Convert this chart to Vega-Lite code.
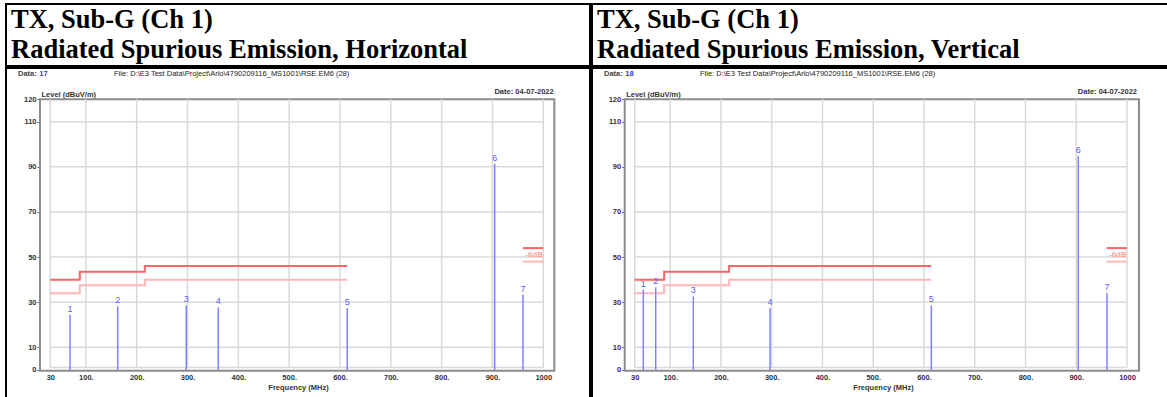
{
  "$schema": "https://vega.github.io/schema/vega-lite/v6.json",
  "background": "white",
  "padding": {"left": 5, "top": 3, "right": 0, "bottom": 0},
  "spacing": 0,
  "config": {"concat": {"spacing": 0}, "view": {"stroke": null}},
  "datasets": {
    "vgrid": [{"freq": 30}, {"freq": 100}, {"freq": 200}, {"freq": 300}, {"freq": 400}, {"freq": 500}, {"freq": 600}, {"freq": 700}, {"freq": 800}, {"freq": 900}, {"freq": 1000}],
    "hgrid": [{"level": 1.1}, {"level": 10}, {"level": 30}, {"level": 50}, {"level": 70}, {"level": 90}, {"level": 110}],
    "limits": [
      {"seg": "u1", "kind": "limit", "freq": 30, "level": 40},
      {"seg": "u1", "kind": "limit", "freq": 88, "level": 43.5},
      {"seg": "u1", "kind": "limit", "freq": 216, "level": 46},
      {"seg": "u1", "kind": "limit", "freq": 614, "level": 46},
      {"seg": "u2", "kind": "limit", "freq": 960, "level": 54},
      {"seg": "u2", "kind": "limit", "freq": 1000, "level": 54},
      {"seg": "l1", "kind": "margin", "freq": 30, "level": 34},
      {"seg": "l1", "kind": "margin", "freq": 88, "level": 37.5},
      {"seg": "l1", "kind": "margin", "freq": 216, "level": 40},
      {"seg": "l1", "kind": "margin", "freq": 614, "level": 40},
      {"seg": "l2", "kind": "margin", "freq": 960, "level": 48},
      {"seg": "l2", "kind": "margin", "freq": 1000, "level": 48}
    ],
    "peaksH": [
      {"id": "1", "freq": 68.8, "level": 24.5},
      {"id": "2", "freq": 162.6, "level": 28.2},
      {"id": "3", "freq": 297.6, "level": 28.6},
      {"id": "4", "freq": 360.5, "level": 27.7},
      {"id": "5", "freq": 614.3, "level": 27.4},
      {"id": "6", "freq": 904.3, "level": 91.3},
      {"id": "7", "freq": 960, "level": 33.3}
    ],
    "peaksV": [
      {"id": "1", "freq": 47, "level": 35.5},
      {"id": "2", "freq": 71.4, "level": 36.6},
      {"id": "3", "freq": 145.5, "level": 32.6},
      {"id": "4", "freq": 296.6, "level": 27.4},
      {"id": "5", "freq": 614.5, "level": 28.6},
      {"id": "6", "freq": 904, "level": 94.7},
      {"id": "7", "freq": 960.6, "level": 34.1}
    ]
  },
  "hconcat": [
    {
      "spacing": 0,
      "vconcat": [
        {
          "width": 584, "height": 62,
          "view": {"stroke": "black", "strokeWidth": 2},
          "data": {"values": []},
          "mark": "point",
          "encoding": {},
          "title": {"text": ["TX, Sub-G (Ch 1)", "Radiated Spurious Emission, Horizontal"], "anchor": "start", "frame": "group", "orient": "top", "offset": -23.7, "baseline": "alphabetic", "dx": 5, "dy": 56.7, "font": "Liberation Serif", "fontSize": 26.5, "fontWeight": "bold", "color": "black", "lineHeight": 30}
        },
        {
          "width": 584, "height": 337,
          "view": {"stroke": "black", "strokeWidth": 2},
          "layer": [
            {
              "data": {"values": [{}]},
              "mark": {"type": "rect", "filled": false, "color": "#8c8c8c", "strokeWidth": 2},
              "encoding": {
                "x": {"datum": 9.7, "type": "quantitative", "scale": {"type": "linear", "domain": [-57.16, 1091.9], "nice": false, "zero": false},
                  "axis": {"orient": "bottom", "offset": -34.3, "values": [30, 100, 200, 300, 400, 500, 600, 700, 800, 900, 1000], "format": "d", "labelExpr": "datum.value == 30 || datum.value == 1000 ? datum.label : datum.label + '.'", "grid": false, "domain": false, "ticks": false, "labelPadding": 3, "labelFont": "Liberation Sans", "labelFontSize": 7.5, "labelFontWeight": "bold", "labelColor": "#333333", "labelFlush": false, "labelOverlap": false, "title": "Frequency (MHz)", "titleFont": "Liberation Sans", "titleFontSize": 7.5, "titleFontWeight": "bold", "titleColor": "#333333", "titlePadding": 2}},
                "x2": {"datum": 1021.7},
                "y": {"datum": -0.35, "type": "quantitative", "scale": {"type": "linear", "domain": [-15.56, 133.82], "nice": false, "zero": false},
                  "axis": {"orient": "left", "offset": -34, "values": [0, 10, 30, 50, 70, 90, 110, 120], "grid": false, "domain": false, "ticks": true, "tickSize": 3, "tickColor": "#666666", "labelPadding": 1, "labelFont": "Liberation Sans", "labelFontSize": 7.5, "labelFontWeight": "bold", "labelColor": "#333333", "labelFlush": false, "labelOverlap": false, "title": "Level (dBuV/m)", "titleFont": "Liberation Sans", "titleFontSize": 7.5, "titleFontWeight": "bold", "titleColor": "#333333", "titleAngle": 0, "titleAlign": "left", "titleBaseline": "alphabetic", "titleX": 1, "titleY": 28}},
                "y2": {"datum": 120}
              }
            },
            {
              "data": {"name": "vgrid"},
              "mark": {"type": "rule", "color": "#d9d9d9", "strokeWidth": 1.5},
              "encoding": {"x": {"field": "freq", "type": "quantitative"}, "y": {"datum": 1.1}, "y2": {"datum": 120}}
            },
            {
              "data": {"name": "hgrid"},
              "mark": {"type": "rule", "color": "#d9d9d9", "strokeWidth": 1.5},
              "encoding": {"y": {"field": "level", "type": "quantitative"}, "x": {"datum": 30}, "x2": {"datum": 1000}}
            },
            {
              "data": {"name": "limits"},
              "mark": {"type": "line", "interpolate": "step-after", "strokeWidth": 2},
              "encoding": {"x": {"field": "freq", "type": "quantitative"}, "y": {"field": "level", "type": "quantitative"}, "detail": {"field": "seg"}, "color": {"field": "kind", "type": "nominal", "scale": {"domain": ["limit", "margin"], "range": ["#ff6464", "#ffb6b6"]}, "legend": null}}
            },
            {
              "data": {"name": "peaksH"},
              "mark": {"type": "rule", "color": "#8080ff", "strokeWidth": 1.5},
              "encoding": {"x": {"field": "freq", "type": "quantitative"}, "y": {"field": "level", "type": "quantitative"}, "y2": {"datum": 0}}
            },
            {
              "data": {"name": "peaksH"},
              "mark": {"type": "text", "color": "#5c5cff", "font": "Liberation Sans", "fontSize": 9, "baseline": "bottom", "dy": -1},
              "encoding": {"x": {"field": "freq", "type": "quantitative"}, "y": {"field": "level", "type": "quantitative"}, "text": {"field": "id"}}
            },
            {
              "data": {"values": [{}]},
              "mark": {"type": "text", "text": "-6dB", "color": "#ff9c9c", "font": "Liberation Sans", "fontSize": 8, "fontWeight": "bold", "baseline": "middle"},
              "encoding": {"x": {"datum": 982}, "y": {"datum": 51}}
            },
            {
              "data": {"values": [{}]},
              "mark": {"type": "text", "text": "Data:", "color": "#444444", "font": "Liberation Sans", "fontSize": 7.5, "fontWeight": "bold", "align": "left", "baseline": "middle"},
              "encoding": {"x": {"datum": -33.5}, "y": {"datum": 131.2}}
            },
            {
              "data": {"values": [{}]},
              "mark": {"type": "text", "text": "17", "color": "#3333ff", "font": "Liberation Sans", "fontSize": 7.5, "fontWeight": "bold", "align": "left", "baseline": "middle"},
              "encoding": {"x": {"datum": 8.5}, "y": {"datum": 131.2}}
            },
            {
              "data": {"values": [{}]},
              "mark": {"type": "text", "text": "File: D:\\E3 Test Data\\Project\\Arlo\\4790209116_MS1001\\RSE.EM6  (28)", "color": "#222222", "font": "Liberation Sans", "fontSize": 7.5, "align": "left", "baseline": "middle"},
              "encoding": {"x": {"datum": 155.3}, "y": {"datum": 131.2}}
            },
            {
              "data": {"values": [{}]},
              "mark": {"type": "text", "text": "Date: 04-07-2022", "color": "#333333", "font": "Liberation Sans", "fontSize": 7.5, "fontWeight": "bold", "align": "right", "baseline": "middle"},
              "encoding": {"x": {"datum": 1020.4}, "y": {"datum": 123.4}}
            }
          ]
        }
      ]
    },
    {
      "spacing": 0,
      "vconcat": [
        {
          "width": 582, "height": 62,
          "view": {"stroke": "black", "strokeWidth": 2},
          "data": {"values": []},
          "mark": "point",
          "encoding": {},
          "title": {"text": ["TX, Sub-G (Ch 1)", "Radiated Spurious Emission, Vertical"], "anchor": "start", "frame": "group", "orient": "top", "offset": -23.7, "baseline": "alphabetic", "dx": 5, "dy": 56.7, "font": "Liberation Serif", "fontSize": 26.5, "fontWeight": "bold", "color": "black", "lineHeight": 30}
        },
        {
          "width": 582, "height": 337,
          "view": {"stroke": "black", "strokeWidth": 2},
          "layer": [
            {
              "data": {"values": [{}]},
              "mark": {"type": "rect", "filled": false, "color": "#8c8c8c", "strokeWidth": 2},
              "encoding": {
                "x": {"datum": 10.3, "type": "quantitative", "scale": {"type": "linear", "domain": [-54.13, 1092.6], "nice": false, "zero": false},
                  "axis": {"orient": "bottom", "offset": -34.3, "values": [30, 100, 200, 300, 400, 500, 600, 700, 800, 900, 1000], "format": "d", "labelExpr": "datum.value == 30 || datum.value == 1000 ? datum.label : datum.label + '.'", "grid": false, "domain": false, "ticks": false, "labelPadding": 3, "labelFont": "Liberation Sans", "labelFontSize": 7.5, "labelFontWeight": "bold", "labelColor": "#333333", "labelFlush": false, "labelOverlap": false, "title": "Frequency (MHz)", "titleFont": "Liberation Sans", "titleFontSize": 7.5, "titleFontWeight": "bold", "titleColor": "#333333", "titlePadding": 2, "titleX": 291}},
                "x2": {"datum": 1023.6},
                "y": {"datum": -0.35, "type": "quantitative", "scale": {"type": "linear", "domain": [-15.56, 133.82], "nice": false, "zero": false},
                  "axis": {"orient": "left", "offset": -32.7, "values": [0, 10, 30, 50, 70, 90, 110, 120], "grid": false, "domain": false, "ticks": true, "tickSize": 3, "tickColor": "#666666", "labelPadding": 1, "labelFont": "Liberation Sans", "labelFontSize": 7.5, "labelFontWeight": "bold", "labelColor": "#333333", "labelFlush": false, "labelOverlap": false, "title": "Level (dBuV/m)", "titleFont": "Liberation Sans", "titleFontSize": 7.5, "titleFontWeight": "bold", "titleColor": "#333333", "titleAngle": 0, "titleAlign": "left", "titleBaseline": "alphabetic", "titleX": 1, "titleY": 28}},
                "y2": {"datum": 120}
              }
            },
            {
              "data": {"name": "vgrid"},
              "mark": {"type": "rule", "color": "#d9d9d9", "strokeWidth": 1.5},
              "encoding": {"x": {"field": "freq", "type": "quantitative"}, "y": {"datum": 1.1}, "y2": {"datum": 120}}
            },
            {
              "data": {"name": "hgrid"},
              "mark": {"type": "rule", "color": "#d9d9d9", "strokeWidth": 1.5},
              "encoding": {"y": {"field": "level", "type": "quantitative"}, "x": {"datum": 30}, "x2": {"datum": 1000}}
            },
            {
              "data": {"name": "limits"},
              "mark": {"type": "line", "interpolate": "step-after", "strokeWidth": 2},
              "encoding": {"x": {"field": "freq", "type": "quantitative"}, "y": {"field": "level", "type": "quantitative"}, "detail": {"field": "seg"}, "color": {"field": "kind", "type": "nominal", "scale": {"domain": ["limit", "margin"], "range": ["#ff6464", "#ffb6b6"]}, "legend": null}}
            },
            {
              "data": {"name": "peaksV"},
              "mark": {"type": "rule", "color": "#8080ff", "strokeWidth": 1.5},
              "encoding": {"x": {"field": "freq", "type": "quantitative"}, "y": {"field": "level", "type": "quantitative"}, "y2": {"datum": 0}}
            },
            {
              "data": {"name": "peaksV"},
              "mark": {"type": "text", "color": "#5c5cff", "font": "Liberation Sans", "fontSize": 9, "baseline": "bottom", "dy": -1},
              "encoding": {"x": {"field": "freq", "type": "quantitative"}, "y": {"field": "level", "type": "quantitative"}, "text": {"field": "id"}}
            },
            {
              "data": {"values": [{}]},
              "mark": {"type": "text", "text": "-6dB", "color": "#ff9c9c", "font": "Liberation Sans", "fontSize": 8, "fontWeight": "bold", "baseline": "middle"},
              "encoding": {"x": {"datum": 982}, "y": {"datum": 51}}
            },
            {
              "data": {"values": [{}]},
              "mark": {"type": "text", "text": "Data:", "color": "#444444", "font": "Liberation Sans", "fontSize": 7.5, "fontWeight": "bold", "align": "left", "baseline": "middle"},
              "encoding": {"x": {"datum": -30.5}, "y": {"datum": 131.2}}
            },
            {
              "data": {"values": [{}]},
              "mark": {"type": "text", "text": "18", "color": "#3333ff", "font": "Liberation Sans", "fontSize": 7.5, "fontWeight": "bold", "align": "left", "baseline": "middle"},
              "encoding": {"x": {"datum": 11.5}, "y": {"datum": 131.2}}
            },
            {
              "data": {"values": [{}]},
              "mark": {"type": "text", "text": "File: D:\\E3 Test Data\\Project\\Arlo\\4790209116_MS1001\\RSE.EM6  (28)", "color": "#222222", "font": "Liberation Sans", "fontSize": 7.5, "align": "left", "baseline": "middle"},
              "encoding": {"x": {"datum": 158.7}, "y": {"datum": 131.2}}
            },
            {
              "data": {"values": [{}]},
              "mark": {"type": "text", "text": "Date: 04-07-2022", "color": "#333333", "font": "Liberation Sans", "fontSize": 7.5, "fontWeight": "bold", "align": "right", "baseline": "middle"},
              "encoding": {"x": {"datum": 1019.7}, "y": {"datum": 123.4}}
            }
          ]
        }
      ]
    }
  ]
}
